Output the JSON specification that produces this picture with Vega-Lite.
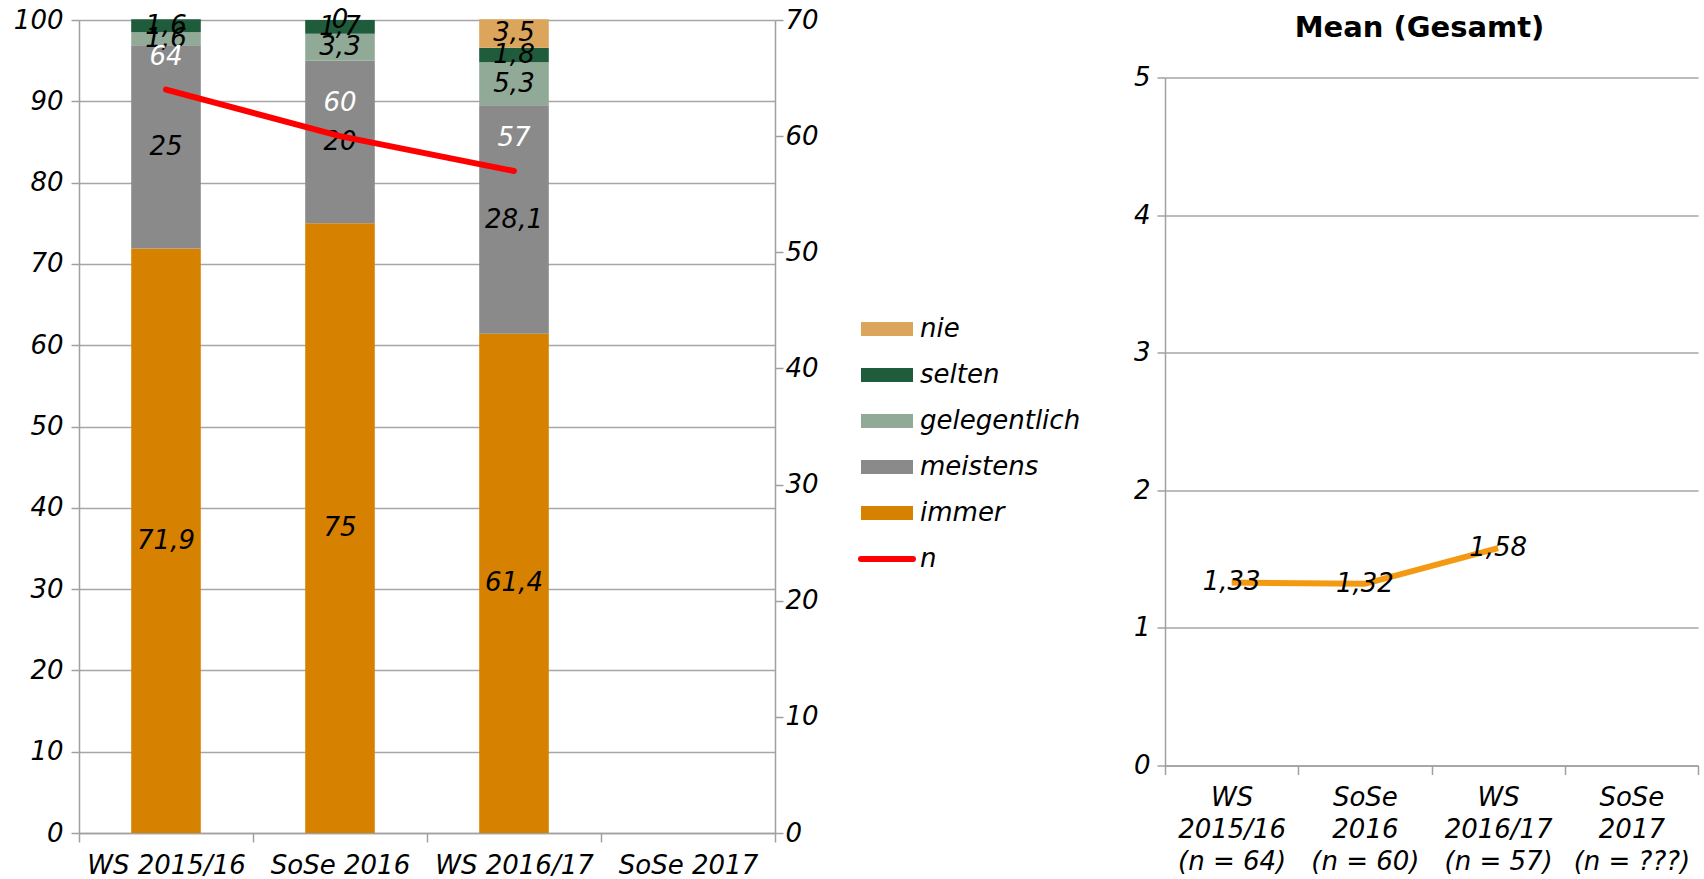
{
  "$schema": "https://vega.github.io/schema/vega-lite/v6.json",
  "padding": {"left": 13, "top": 6, "right": 2, "bottom": 0},
  "background": "white",
  "center": true,
  "spacing": 52,
  "config": {
    "locale": {"number": {"decimal": ",", "thousands": ".", "grouping": [3], "currency": ["", " €"]}},
    "view": {"stroke": null},
    "font": "DejaVu Sans",
    "axis": {"labelFont": "DejaVu Sans", "labelFontStyle": "italic", "labelFontSize": 26, "labelColor": "#000000", "domainColor": "#A0A0A0", "domainWidth": 1.5, "tickColor": "#A0A0A0", "tickWidth": 1.5, "gridColor": "#A6A6A6", "gridWidth": 1.5, "title": null}
  },
  "resolve": {"scale": {"x": "independent", "y": "independent", "color": "independent"}, "legend": {"color": "independent"}},
  "hconcat": [
    {
      "width": 696,
      "height": 813,
      "layer": [
        {
          "data": {"values": [
            {"sem": "WS 2015/16", "cat": "immer", "pct": 71.9},
            {"sem": "WS 2015/16", "cat": "meistens", "pct": 25},
            {"sem": "WS 2015/16", "cat": "gelegentlich", "pct": 1.6},
            {"sem": "WS 2015/16", "cat": "selten", "pct": 1.6},
            {"sem": "SoSe 2016", "cat": "immer", "pct": 75},
            {"sem": "SoSe 2016", "cat": "meistens", "pct": 20},
            {"sem": "SoSe 2016", "cat": "gelegentlich", "pct": 3.3},
            {"sem": "SoSe 2016", "cat": "selten", "pct": 1.7},
            {"sem": "SoSe 2016", "cat": "nie", "pct": 0},
            {"sem": "WS 2016/17", "cat": "immer", "pct": 61.4},
            {"sem": "WS 2016/17", "cat": "meistens", "pct": 28.1},
            {"sem": "WS 2016/17", "cat": "gelegentlich", "pct": 5.3},
            {"sem": "WS 2016/17", "cat": "selten", "pct": 1.8},
            {"sem": "WS 2016/17", "cat": "nie", "pct": 3.5}
          ]},
          "transform": [
            {"calculate": "indexof(['immer','meistens','gelegentlich','selten','nie'], datum.cat)", "as": "k"},
            {"stack": "pct", "groupby": ["sem"], "sort": [{"field": "k", "order": "ascending"}], "as": ["y0", "y1"]},
            {"calculate": "(datum.y0 + datum.y1) / 2", "as": "mid"}
          ],
          "layer": [
            {
              "mark": {"type": "bar", "width": {"band": 0.4}},
              "encoding": {
                "x": {"field": "sem", "type": "nominal", "sort": null,
                  "scale": {"domain": ["WS 2015/16", "SoSe 2016", "WS 2016/17", "SoSe 2017"], "paddingInner": 0, "paddingOuter": 0},
                  "axis": {"labelAngle": 0, "tickBand": "extent", "tickSize": 9, "labelPadding": 10, "title": " ", "titleFontSize": 10, "titlePadding": 44}},
                "y": {"field": "y0", "type": "quantitative", "scale": {"domain": [0, 100], "nice": false},
                  "axis": {"values": [0, 10, 20, 30, 40, 50, 60, 70, 80, 90, 100], "format": "d", "grid": true, "tickSize": 8, "labelPadding": 8}},
                "y2": {"field": "y1"},
                "color": {"field": "cat", "type": "nominal",
                  "scale": {"domain": ["nie", "selten", "gelegentlich", "meistens", "immer", "n"], "range": ["#DCA55C", "#1F5C3B", "#90AA97", "#8A8A8A", "#D68100", "#FF0000"]},
                  "legend": {
                    "orient": "none", "legendX": 795, "legendY": 296, "title": null,
                    "labelFont": "DejaVu Sans", "labelFontStyle": "italic", "labelFontSize": 26, "labelColor": "#000000", "labelLimit": 0,
                    "rowPadding": 20, "labelOffset": 20, "symbolSize": 676, "padding": 0,
                    "encode": {"symbols": {"update": {
                      "shape": {"signal": "datum.value === 'n' ? 'M-2,0H2' : 'M-2,-0.54H2V0.54H-2Z'"},
                      "size": {"value": 676},
                      "fill": {"signal": "datum.value === 'n' ? 'transparent' : datum.value === 'nie' ? '#DCA55C' : datum.value === 'selten' ? '#1F5C3B' : datum.value === 'gelegentlich' ? '#90AA97' : datum.value === 'meistens' ? '#8A8A8A' : '#D68100'"},
                      "stroke": {"signal": "datum.value === 'n' ? '#FF0000' : 'transparent'"},
                      "strokeWidth": {"signal": "datum.value === 'n' ? 6 : 0"},
                      "strokeCap": {"value": "round"},
                      "opacity": {"value": 1}
                    }}}
                  }}
              }
            },
            {
              "mark": {"type": "text", "font": "DejaVu Sans", "fontStyle": "italic", "fontSize": 26, "color": "#000000", "baseline": "middle"},
              "encoding": {
                "x": {"field": "sem", "type": "nominal", "sort": null},
                "y": {"field": "mid", "type": "quantitative"},
                "text": {"field": "pct", "type": "quantitative", "format": ".3~r"}
              }
            }
          ]
        },
        {
          "data": {"values": [
            {"sem": "WS 2015/16", "n": 64},
            {"sem": "SoSe 2016", "n": 60},
            {"sem": "WS 2016/17", "n": 57}
          ]},
          "layer": [
            {
              "mark": {"type": "line", "strokeWidth": 6, "strokeCap": "round"},
              "encoding": {
                "x": {"field": "sem", "type": "nominal", "sort": null},
                "y": {"field": "n", "type": "quantitative", "scale": {"domain": [0, 70], "nice": false},
                  "axis": {"orient": "right", "values": [0, 10, 20, 30, 40, 50, 60, 70], "format": "d", "grid": false, "tickSize": 8, "labelPadding": 2}},
                "color": {"datum": "n"}
              }
            },
            {
              "mark": {"type": "text", "font": "DejaVu Sans", "fontStyle": "italic", "fontSize": 26, "color": "#FFFFFF", "baseline": "middle", "dy": -33},
              "encoding": {
                "x": {"field": "sem", "type": "nominal", "sort": null},
                "y": {"field": "n", "type": "quantitative"},
                "text": {"field": "n", "type": "quantitative"}
              }
            }
          ]
        }
      ],
      "resolve": {"scale": {"y": "independent"}}
    },
    {
      "width": 533,
      "height": 688,
      "title": {"text": ["", "Mean (Gesamt)"], "lineHeight": 7, "fontSize": 29, "font": "DejaVu Sans", "fontWeight": "bold", "offset": 22, "anchor": "middle", "dx": -12, "color": "#000000"},
      "data": {"values": [
        {"term": "WS|2015/16|(n = 64)", "mean": 1.33},
        {"term": "SoSe|2016|(n = 60)", "mean": 1.32},
        {"term": "WS|2016/17|(n = 57)", "mean": 1.58}
      ]},
      "layer": [
        {
          "mark": {"type": "line", "color": "#F39A12", "strokeWidth": 6},
          "encoding": {
            "x": {"field": "term", "type": "nominal", "sort": null,
              "scale": {"type": "band", "domain": ["WS|2015/16|(n = 64)", "SoSe|2016|(n = 60)", "WS|2016/17|(n = 57)", "SoSe|2017|(n = ???)"], "paddingInner": 0, "paddingOuter": 0},
              "axis": {"labelExpr": "datum.value ? split(datum.value, '|') : ''", "labelAngle": 0, "tickBand": "extent", "tickSize": 9, "labelPadding": 10, "labelLineHeight": 32}},
            "y": {"field": "mean", "type": "quantitative", "scale": {"domain": [0, 5], "nice": false},
              "axis": {"values": [0, 1, 2, 3, 4, 5], "format": "d", "grid": true, "tickSize": 8, "labelPadding": 7}}
          }
        },
        {
          "mark": {"type": "text", "font": "DejaVu Sans", "fontStyle": "italic", "fontSize": 26, "color": "#000000", "baseline": "middle"},
          "encoding": {
            "x": {"field": "term", "type": "nominal", "sort": null},
            "y": {"field": "mean", "type": "quantitative"},
            "text": {"field": "mean", "type": "quantitative", "format": ".2f"}
          }
        }
      ]
    }
  ]
}
